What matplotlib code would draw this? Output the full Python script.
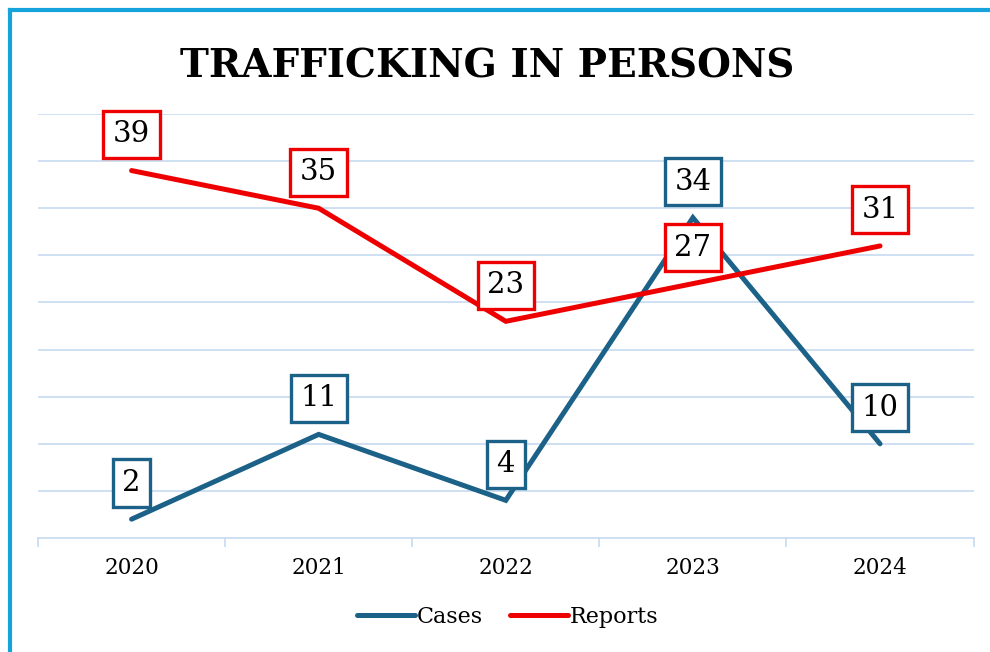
import matplotlib.pyplot as plt
from matplotlib.lines import Line2D

years = ['2020', '2021', '2022', '2023', '2024']
cases = [2, 11, 4, 34, 10]
reports = [39, 35, 23, 27, 31]

series = [('Cases', cases, '#1B6188'), ('Reports', reports, '#EE0000')]
grid_color = '#C9DDF0'

plt.rcParams['font.family'] = 'DejaVu Serif'

fig = plt.figure(figsize=(9.9, 6.52), dpi=100)
ax = fig.add_axes([0.0384, 0.1748, 0.9450, 0.6503])

x = list(range(len(years)))
for name, values, color in series:
    ax.plot(x, values, color=color, linewidth=3.6, solid_capstyle='round',
            solid_joinstyle='miter', label=name, zorder=3)
    for xi, v in zip(x, values):
        ax.annotate(str(v), (xi, v), xytext=(0, 26), textcoords='offset points',
                    ha='center', va='center', fontsize=21, color='black', zorder=5,
                    bbox=dict(boxstyle='square,pad=0.33', facecolor='white',
                              edgecolor=color, linewidth=2.4))

ax.set_xlim(-0.5, len(years) - 0.5)
ax.set_ylim(0, 45)
ax.set_yticks(range(5, 50, 5))
ax.yaxis.grid(True, color=grid_color, linewidth=1.3)
ax.tick_params(axis='y', left=False, labelleft=False)
ax.set_xticks(x)
ax.set_xticklabels(years, fontsize=15.5)
ax.tick_params(axis='x', length=0, pad=14)
for s in ['top', 'right', 'left']:
    ax.spines[s].set_visible(False)
ax.spines['bottom'].set_color(grid_color)
ax.spines['bottom'].set_linewidth(1.3)
# category separators below the axis
for b in [i - 0.5 for i in range(len(years) + 1)]:
    ax.plot([b, b], [0, -0.8], color=grid_color, linewidth=1.3, clip_on=False)

fig.text(0.492, 0.898, 'TRAFFICKING IN PERSONS', ha='center', va='center',
         fontsize=28, fontweight='bold')

handles = [Line2D([0], [0], color=c, linewidth=3.6, solid_capstyle='round')
           for _, _, c in series]
fig.legend(handles, [n for n, _, _ in series], loc='center', bbox_to_anchor=(0.513, 0.054),
           ncol=2, frameon=False, fontsize=16, handlelength=2.6, handletextpad=0.1,
           columnspacing=1.2)

# outer frame, open to the right and bottom
frame_color = '#14A3DB'
fig.add_artist(Line2D([0.0106, 0.0106], [0, 0.9847], color=frame_color, linewidth=3,
                      transform=fig.transFigure))
fig.add_artist(Line2D([0.0106, 1.0], [0.9847, 0.9847], color=frame_color, linewidth=3,
                      transform=fig.transFigure))

fig.savefig('out.png', dpi=100, facecolor='white')
